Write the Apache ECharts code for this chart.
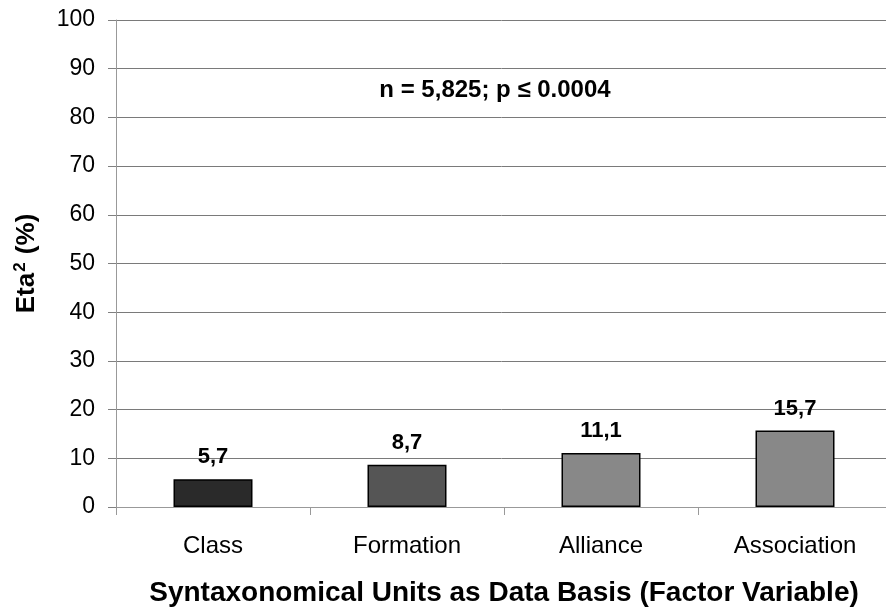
<!DOCTYPE html>
<html><head><meta charset="utf-8">
<script src="https://cdn.jsdelivr.net/npm/echarts@6/dist/echarts.min.js"></script>
<style>html,body{margin:0;padding:0;background:#fff}#c{width:886px;height:608px}</style>
</head><body><div id="c"></div>
<script>
const categories = ['Class', 'Formation', 'Alliance', 'Association'];
const values = [5.7, 8.7, 11.1, 15.7];
const valueLabels = ['5,7', '8,7', '11,1', '15,7'];
const barColors = ['#2a2a2a', '#555555', '#888888', '#888888'];
const yTicks = { min: 0, max: 100, interval: 10 };
const annotation = 'n = 5,825; p \u2264 0.0004';

const chart = echarts.init(document.getElementById('c'), null, { renderer: 'canvas' });
const FF = '"Liberation Sans", Arial, sans-serif';
chart.setOption({
  animation: false,
  backgroundColor: '#fff',
  textStyle: { fontFamily: FF },
  grid: { left: 116, top: 20, right: -6, bottom: 101, containLabel: false, outerBoundsMode: 'none' },
  title: {
    text: annotation, left: 490, top: 73, textAlign: 'center',
    textStyle: { fontFamily: FF, fontSize: 24, fontWeight: 'bold', color: '#000' }
  },
  xAxis: {
    type: 'category', data: categories,
    axisLine: { show: true, lineStyle: { color: '#999', width: 1 } },
    axisTick: { show: true, length: 8, lineStyle: { color: '#999' } },
    axisLabel: { margin: 27, fontSize: 24, color: '#000', fontFamily: FF },
    name: 'Syntaxonomical Units as Data Basis (Factor Variable)',
    nameLocation: 'middle', nameGap: 72,
    nameTextStyle: { fontFamily: FF, fontSize: 28, fontWeight: 'bold', color: '#000' }
  },
  yAxis: {
    type: 'value', min: yTicks.min, max: yTicks.max, interval: yTicks.interval,
    axisLine: { show: true, lineStyle: { color: '#999', width: 1 } },
    axisTick: { show: true, length: 8, lineStyle: { color: '#808080' } },
    axisLabel: { margin: 21, fontSize: 23, color: '#000', fontFamily: FF },
    splitLine: { show: true, lineStyle: { color: '#7a7a7a', width: 1 } },
    name: '{a|Eta}{s|2}{a| (%)}', nameLocation: 'middle', nameGap: 75,
    nameTextStyle: {
      fontFamily: FF, fontSize: 26, fontWeight: 'bold', color: '#000',
      rich: {
        a: { fontFamily: FF, fontSize: 26, fontWeight: 'bold', color: '#000' },
        s: { fontFamily: FF, fontSize: 17, fontWeight: 'bold', color: '#000', padding: [0, 1, 12, 1] }
      }
    }
  },
  series: [{
    type: 'bar', barWidth: 79,
    data: values.map((v, i) => ({ value: v, itemStyle: { color: barColors[i] } })),
    itemStyle: { borderColor: '#000', borderWidth: 1.5 },
    label: {
      show: true, position: 'top', distance: 11,
      formatter: p => valueLabels[p.dataIndex],
      fontFamily: FF, fontSize: 22, fontWeight: 'bold', color: '#000'
    }
  }]
});
</script></body></html>
